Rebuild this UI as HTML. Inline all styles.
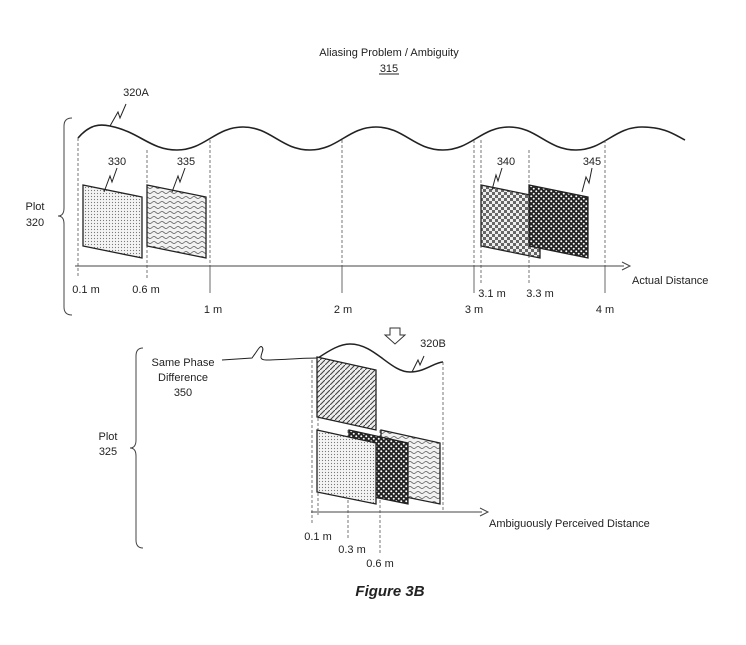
<!DOCTYPE html>
<html><head><meta charset="utf-8"><style>
body{margin:0;background:#fff;}
svg text{font-family:"Liberation Sans",sans-serif;font-size:11px;fill:#222;}
</style></head><body>
<svg width="746" height="640" viewBox="0 0 746 640" xmlns="http://www.w3.org/2000/svg">
<defs>
<pattern id="dots" width="3" height="3" patternUnits="userSpaceOnUse"><rect width="3" height="3" fill="#f4f4f4"/><circle cx="1.5" cy="1.5" r="0.6" fill="#777"/></pattern>
<pattern id="wav" width="8" height="5" patternUnits="userSpaceOnUse"><rect width="8" height="5" fill="#f2f2f2"/><path d="M0 2.5 Q2 0.5 4 2.5 T8 2.5" fill="none" stroke="#555" stroke-width="0.8"/></pattern>
<pattern id="chk" width="6" height="6" patternUnits="userSpaceOnUse"><rect width="6" height="6" fill="#eee"/><rect width="3" height="3" fill="#666"/><rect x="3" y="3" width="3" height="3" fill="#666"/></pattern>
<pattern id="chkd" width="5" height="5" patternUnits="userSpaceOnUse"><rect width="5" height="5" fill="#222"/><circle cx="1.25" cy="1.25" r="1" fill="#fff"/><circle cx="3.75" cy="3.75" r="1" fill="#fff"/></pattern>
<pattern id="hat" width="5" height="5" patternUnits="userSpaceOnUse"><rect width="5" height="5" fill="#eee"/><path d="M0 5 L5 0" stroke="#444" stroke-width="1.1"/></pattern>
</defs>
<text x="389" y="56" text-anchor="middle">Aliasing Problem / Ambiguity</text>
<text x="389" y="72" text-anchor="middle">315</text>
<line x1="379" y1="74" x2="399" y2="74" stroke="#222"/>
<!-- bracket top -->
<path d="M72 118 Q64 118 64 126 L64 208 Q64 216 58 216 Q64 216 64 224 L64 307 Q64 315 72 315" fill="none" stroke="#444" stroke-width="1"/>
<text x="35" y="210" text-anchor="middle">Plot</text>
<text x="35" y="226" text-anchor="middle">320</text>
<!-- wave -->
<path d="M78 138 C90 124 100 124 110 126 C140 132 150 150 177 150 C205 150 215 127 243 127 C271 127 281 150 310 150 C338 150 348 127 376 127 C404 127 414 150 443 150 C471 150 481 127 509 127 C537 127 547 150 576 150 C604 150 614 127 642 127 C665 127 675 135 685 140" fill="none" stroke="#222" stroke-width="1.6"/>
<path d="M110 126 L118 112 L120 118 L126 104" fill="none" stroke="#222"/>
<text x="136" y="96" text-anchor="middle">320A</text>
<!-- verticals -->
<g stroke="#555" stroke-dasharray="3,2" stroke-width="0.8">
<line x1="78" y1="138" x2="78" y2="278"/><line x1="147" y1="150" x2="147" y2="278"/>
<line x1="210" y1="140" x2="210" y2="266"/><line x1="342" y1="140" x2="342" y2="266"/>
<line x1="474" y1="140" x2="474" y2="266"/><line x1="605" y1="140" x2="605" y2="266"/>
<line x1="481" y1="140" x2="481" y2="285"/><line x1="529" y1="150" x2="529" y2="285"/>
</g>
<g stroke="#444" stroke-width="0.8">
<line x1="210" y1="266" x2="210" y2="293"/><line x1="342" y1="266" x2="342" y2="293"/>
<line x1="474" y1="266" x2="474" y2="293"/><line x1="605" y1="266" x2="605" y2="293"/>
</g>
<line x1="75" y1="266" x2="624" y2="266" stroke="#444"/>
<path d="M622 262 L630 266 L622 270" fill="none" stroke="#444"/>
<text x="632" y="284">Actual Distance</text>
<!-- panels -->
<polygon points="83,185 142,197 142,258 83,246" fill="url(#dots)" stroke="#222" stroke-width="1.3"/>
<polygon points="147,185 206,197 206,258 147,246" fill="url(#wav)" stroke="#222" stroke-width="1.3"/>
<polygon points="481,185 540,197 540,258 481,246" fill="url(#chk)" stroke="#222" stroke-width="1.3"/>
<polygon points="529,185 588,197 588,258 529,246" fill="url(#chkd)" stroke="#222" stroke-width="1.3"/>
<g fill="none" stroke="#222"><path d="M104 192 L110 176 L112 182 L117 168"/><path d="M172 192 L178 176 L180 182 L185 168"/><path d="M492 190 L496 175 L498 181 L502 168"/><path d="M582 192 L586 177 L589 183 L592 168"/></g>
<text x="117" y="165" text-anchor="middle">330</text><text x="186" y="165" text-anchor="middle">335</text>
<text x="506" y="165" text-anchor="middle">340</text><text x="592" y="165" text-anchor="middle">345</text>
<text x="86" y="293" text-anchor="middle">0.1 m</text><text x="146" y="293" text-anchor="middle">0.6 m</text>
<text x="213" y="313" text-anchor="middle">1 m</text><text x="343" y="313" text-anchor="middle">2 m</text>
<text x="474" y="313" text-anchor="middle">3 m</text><text x="492" y="297" text-anchor="middle">3.1 m</text>
<text x="540" y="297" text-anchor="middle">3.3 m</text><text x="605" y="313" text-anchor="middle">4 m</text>
<!-- down arrow -->
<path d="M390 328 L400 328 L400 335 L405 335 L395 344 L385 335 L390 335 Z" fill="#fff" stroke="#333"/>
<!-- bottom -->
<path d="M143 348 Q136 348 136 356 L136 440 Q136 448 130 448 Q136 448 136 456 L136 540 Q136 548 143 548" fill="none" stroke="#444"/>
<text x="108" y="440" text-anchor="middle">Plot</text><text x="108" y="455" text-anchor="middle">325</text>
<text x="183" y="366" text-anchor="middle">Same Phase</text>
<text x="183" y="381" text-anchor="middle">Difference</text>
<text x="183" y="396" text-anchor="middle">350</text>
<path d="M222 360 L252 358 C258 350 260 345 262 347 C266 350 255 360 266 360 C280 360 300 358 318 358" fill="none" stroke="#222"/>
<path d="M318 358 C330 350 340 344 350 344 C375 344 390 372 410 372 C425 372 435 362 443 362" fill="none" stroke="#222" stroke-width="1.5"/>
<path d="M412 372 L418 360 L420 365 L424 356" fill="none" stroke="#222"/>
<text x="433" y="347" text-anchor="middle">320B</text>
<g stroke="#555" stroke-dasharray="3,2" stroke-width="0.8">
<line x1="312" y1="360" x2="312" y2="525"/><line x1="318" y1="358" x2="318" y2="515"/>
<line x1="348" y1="430" x2="348" y2="540"/><line x1="380" y1="430" x2="380" y2="555"/>
<line x1="443" y1="362" x2="443" y2="512"/>
</g>
<line x1="311" y1="512" x2="482" y2="512" stroke="#444"/>
<path d="M480 508 L488 512 L480 516" fill="none" stroke="#444"/>
<text x="489" y="527">Ambiguously Perceived Distance</text>
<polygon points="317,357 376,370 376,430 317,417" fill="url(#hat)" stroke="#222" stroke-width="1.3"/>
<polygon points="381,430 440,443 440,504 381,492" fill="url(#wav)" stroke="#222" stroke-width="1.3"/>
<polygon points="349,430 408,443 408,504 349,492" fill="url(#chkd)" stroke="#222" stroke-width="1.3"/>
<polygon points="317,430 376,443 376,504 317,492" fill="url(#dots)" stroke="#222" stroke-width="1.3"/>
<text x="318" y="540" text-anchor="middle">0.1 m</text>
<text x="352" y="553" text-anchor="middle">0.3 m</text>
<text x="380" y="567" text-anchor="middle">0.6 m</text>
<text x="390" y="596" text-anchor="middle" style="font-size:15px;font-weight:bold;font-style:italic;">Figure 3B</text>
</svg>
</body></html>
